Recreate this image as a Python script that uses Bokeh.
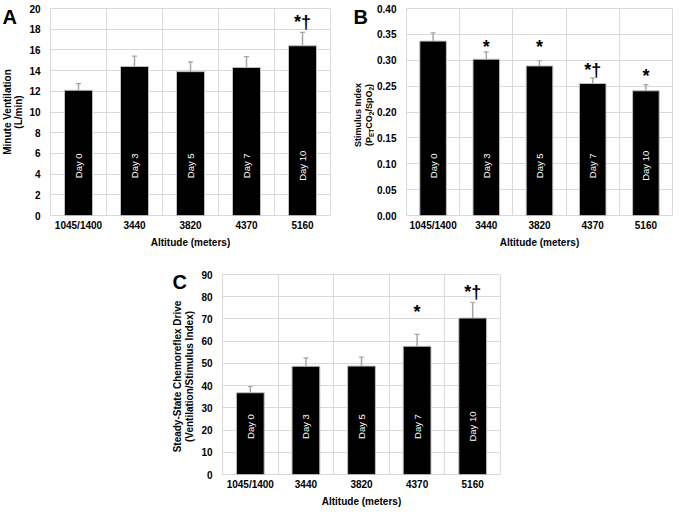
import math
from bokeh.plotting import figure
from bokeh.models import (ColumnDataSource, FixedTicker, Whisker, TeeHead,
                          Range1d, NumeralTickFormatter, Spacer)
from bokeh.layouts import column, row
from bokeh.core.properties import value
from bokeh.embed import file_html
from bokeh.resources import INLINE

# ---------------- data ----------------
altitudes = ["1045/1400", "3440", "3820", "4370", "5160"]
days = ["Day 0", "Day 3", "Day 5", "Day 7", "Day 10"]

ve_mean = [12.1, 14.4, 13.9, 14.3, 16.4]
ve_err = [0.65, 1.0, 0.95, 1.05, 1.3]
ve_sig = ["", "", "", "", "*†"]
ve_sig_y = [None, None, None, None, 19.0]

si_mean = [0.337, 0.302, 0.289, 0.255, 0.241]
si_err = [0.016, 0.014, 0.010, 0.011, 0.012]
si_sig = ["", "*", "*", "*†", "*"]
si_sig_y = [None, 0.333, 0.333, 0.287, 0.277]

ssd_mean = [36.8, 48.7, 48.8, 57.7, 70.4]
ssd_err = [2.8, 3.8, 4.0, 5.4, 7.0]
ssd_sig = ["", "", "", "*", "*†"]
ssd_sig_y = [None, None, None, 74.5, 83.6]

FONT = "Liberation Sans"
GRID = "#d9d9d9"


def make_panel(means, errs, sigs, sig_y, ymax, ystep, fmt,
               fw, fh, left, right, top, bottom):
    n = len(means)
    xs = list(range(1, n + 1))
    p = figure(frame_width=fw, frame_height=fh, min_border_left=left,
               min_border_right=right, min_border_top=top, min_border_bottom=bottom,
               x_range=Range1d(0.5, n + 0.5), y_range=Range1d(0, ymax),
               output_backend="svg", toolbar_location=None, tools="")
    p.background_fill_color = "white"
    p.border_fill_color = "white"
    p.outline_line_color = GRID

    src = ColumnDataSource(dict(
        x=xs, mean=means, top=[m + e for m, e in zip(means, errs)],
        day=days, day_y=[ymax * 0.24] * n))

    p.vbar(x="x", top="mean", width=0.5, source=src, fill_color="black",
           line_color="#c0c0c0", line_width=1)
    wk = Whisker(base="x", lower="mean", upper="top", dimension="height", source=src,
                 line_color="#a6a6a6", line_width=1.5, lower_head=None,
                 upper_head=TeeHead(size=5, line_color="#a6a6a6", line_width=1.2),
                 level="glyph")
    p.add_layout(wk)

    p.text(x="x", y="day_y", text="day", source=src, angle=math.pi / 2,
           text_align="center", text_baseline="middle", text_color="white",
           text_font=value(FONT), text_font_size="9.5px")

    sx = [x for x, s in zip(xs, sigs) if s]
    sy = [y for y, s in zip(sig_y, sigs) if s]
    st = [s for s in sigs if s]
    p.text(x=sx, y=sy, text=st, text_align="center", text_baseline="alphabetic",
           y_offset=3.5, text_color="black", text_font=value(FONT),
           text_font_size="18px", text_font_style="bold")

    ticks = []
    t = 0.0
    while t <= ymax + 1e-9:
        ticks.append(round(t, 4))
        t += ystep
    p.yaxis.ticker = FixedTicker(ticks=ticks)
    if fmt:
        p.yaxis.formatter = NumeralTickFormatter(format=fmt)
    p.xaxis.ticker = FixedTicker(ticks=xs)
    p.xaxis.major_label_overrides = {x: a for x, a in zip(xs, altitudes)}
    p.xgrid.ticker = FixedTicker(ticks=[x + 0.5 for x in xs[:-1]])
    p.xgrid.grid_line_color = GRID
    p.ygrid.grid_line_color = GRID
    for ax in (p.xaxis[0], p.yaxis[0]):
        ax.axis_line_color = None
        ax.major_tick_line_color = None
        ax.minor_tick_line_color = None
        ax.major_tick_out = 0
        ax.major_tick_in = 0
        ax.major_label_text_font = FONT
        ax.major_label_text_font_style = "bold"
        ax.major_label_text_font_size = "10px"
        ax.major_label_text_color = "black"
        ax.axis_label_text_font = FONT
        ax.axis_label_text_font_style = "bold"
        ax.axis_label_text_font_size = "10px"
        ax.axis_label_text_color = "black"
    p.xaxis.major_label_standoff = 4
    p.yaxis.major_label_standoff = 10
    p.xaxis.axis_label = "Altitude (meters)"
    p.xaxis.axis_label_standoff = 3
    return p


def strip(W, H):
    """Blank figure next to a panel; its frame lines up with the panel's frame."""
    s = figure(width=W, height=H, x_range=Range1d(0, 1), y_range=Range1d(0, 1),
               min_border=0, x_axis_type=None, y_axis_type=None, title=None,
               output_backend="svg", toolbar_location=None, tools="")
    s.grid.visible = False
    s.outline_line_color = None
    s.background_fill_color = "white"
    s.border_fill_color = "white"
    return s


def strip_text(s, px, py, txt, size, angle=0.0, align="left",
               baseline="top", style="bold"):
    # anchored at the strip frame's top-left corner, placed by pixel offsets
    s.text(x=[0], y=[1], text=[txt], x_offset=px, y_offset=py, angle=angle,
           text_align=align, text_baseline=baseline, text_color="black",
           text_font=value(FONT), text_font_size=size, text_font_style=style)


# ---------------- row 1 ----------------
H1 = 247
TOP1, FH1, BOT1 = 8, 207, 32
mid1 = FH1 / 2

# Panel A
sA = strip(26, H1)
strip_text(sA, 2, -3, "A", "20px")
strip_text(sA, 7, mid1, "Minute Ventilation", "10px", math.pi / 2, "center", "middle")
strip_text(sA, 18, mid1, "(L/min)", "10px", math.pi / 2, "center", "middle")
pA = make_panel(ve_mean, ve_err, ve_sig, ve_sig_y, 20, 2, None,
                280, FH1, 22, 10, TOP1, BOT1)

# Panel B
sB = strip(34, H1)
strip_text(sB, 13, -3, "B", "20px")
midB = mid1 + 3
strip_text(sB, 17, midB, "Stimulus Index", "9px", math.pi / 2, "center", "middle")
main_fs, sub_fs = 9, 6.5
pieces = [("(P", main_fs, 0.333 + 0.667, False), ("ET", sub_fs, 0.667 + 0.611, True),
          ("CO", main_fs, 0.722 + 0.778, False), ("2", sub_fs, 0.556, True),
          ("/SpO", main_fs, 0.278 + 0.667 + 0.611 + 0.778, False), ("2", sub_fs, 0.556, True),
          (")", main_fs, 0.333, False)]
total = sum(fs * w for _, fs, w, _ in pieces)
cur = midB + total / 2  # lower end of the rotated line, px from frame top
for txt, fs, w, sub in pieces:
    strip_text(sB, 28 + (2.5 if sub else 0), cur, txt, f"{fs}px", math.pi / 2,
               "left", "middle")
    cur -= fs * w
pB = make_panel(si_mean, si_err, si_sig, si_sig_y, 0.40, 0.05, "0.00",
                266, FH1, 30, 1, TOP1, BOT1)

# ---------------- row 2 ----------------
H2 = 252
TOP2, FH2, BOT2 = 24, 200, 28
mid2 = FH2 / 2
sC = strip(32, H2)
strip_text(sC, 6, -4, "C", "20px")
strip_text(sC, 11, mid2 + 2, "Steady-State Chemoreflex Drive", "10px", math.pi / 2,
           "center", "middle")
strip_text(sC, 23, mid2 + 2, "(Ventilation/Stimulus Index)", "10px", math.pi / 2,
           "center", "middle")
pC = make_panel(ssd_mean, ssd_err, ssd_sig, ssd_sig_y, 90, 10, None,
                278, FH2, 24, 20, TOP2, BOT2)

layout = column(row(sA, pA, sB, pB),
                row(Spacer(width=166, height=10), sC, pC))

open("out.html", "w").write(file_html(layout, INLINE))
